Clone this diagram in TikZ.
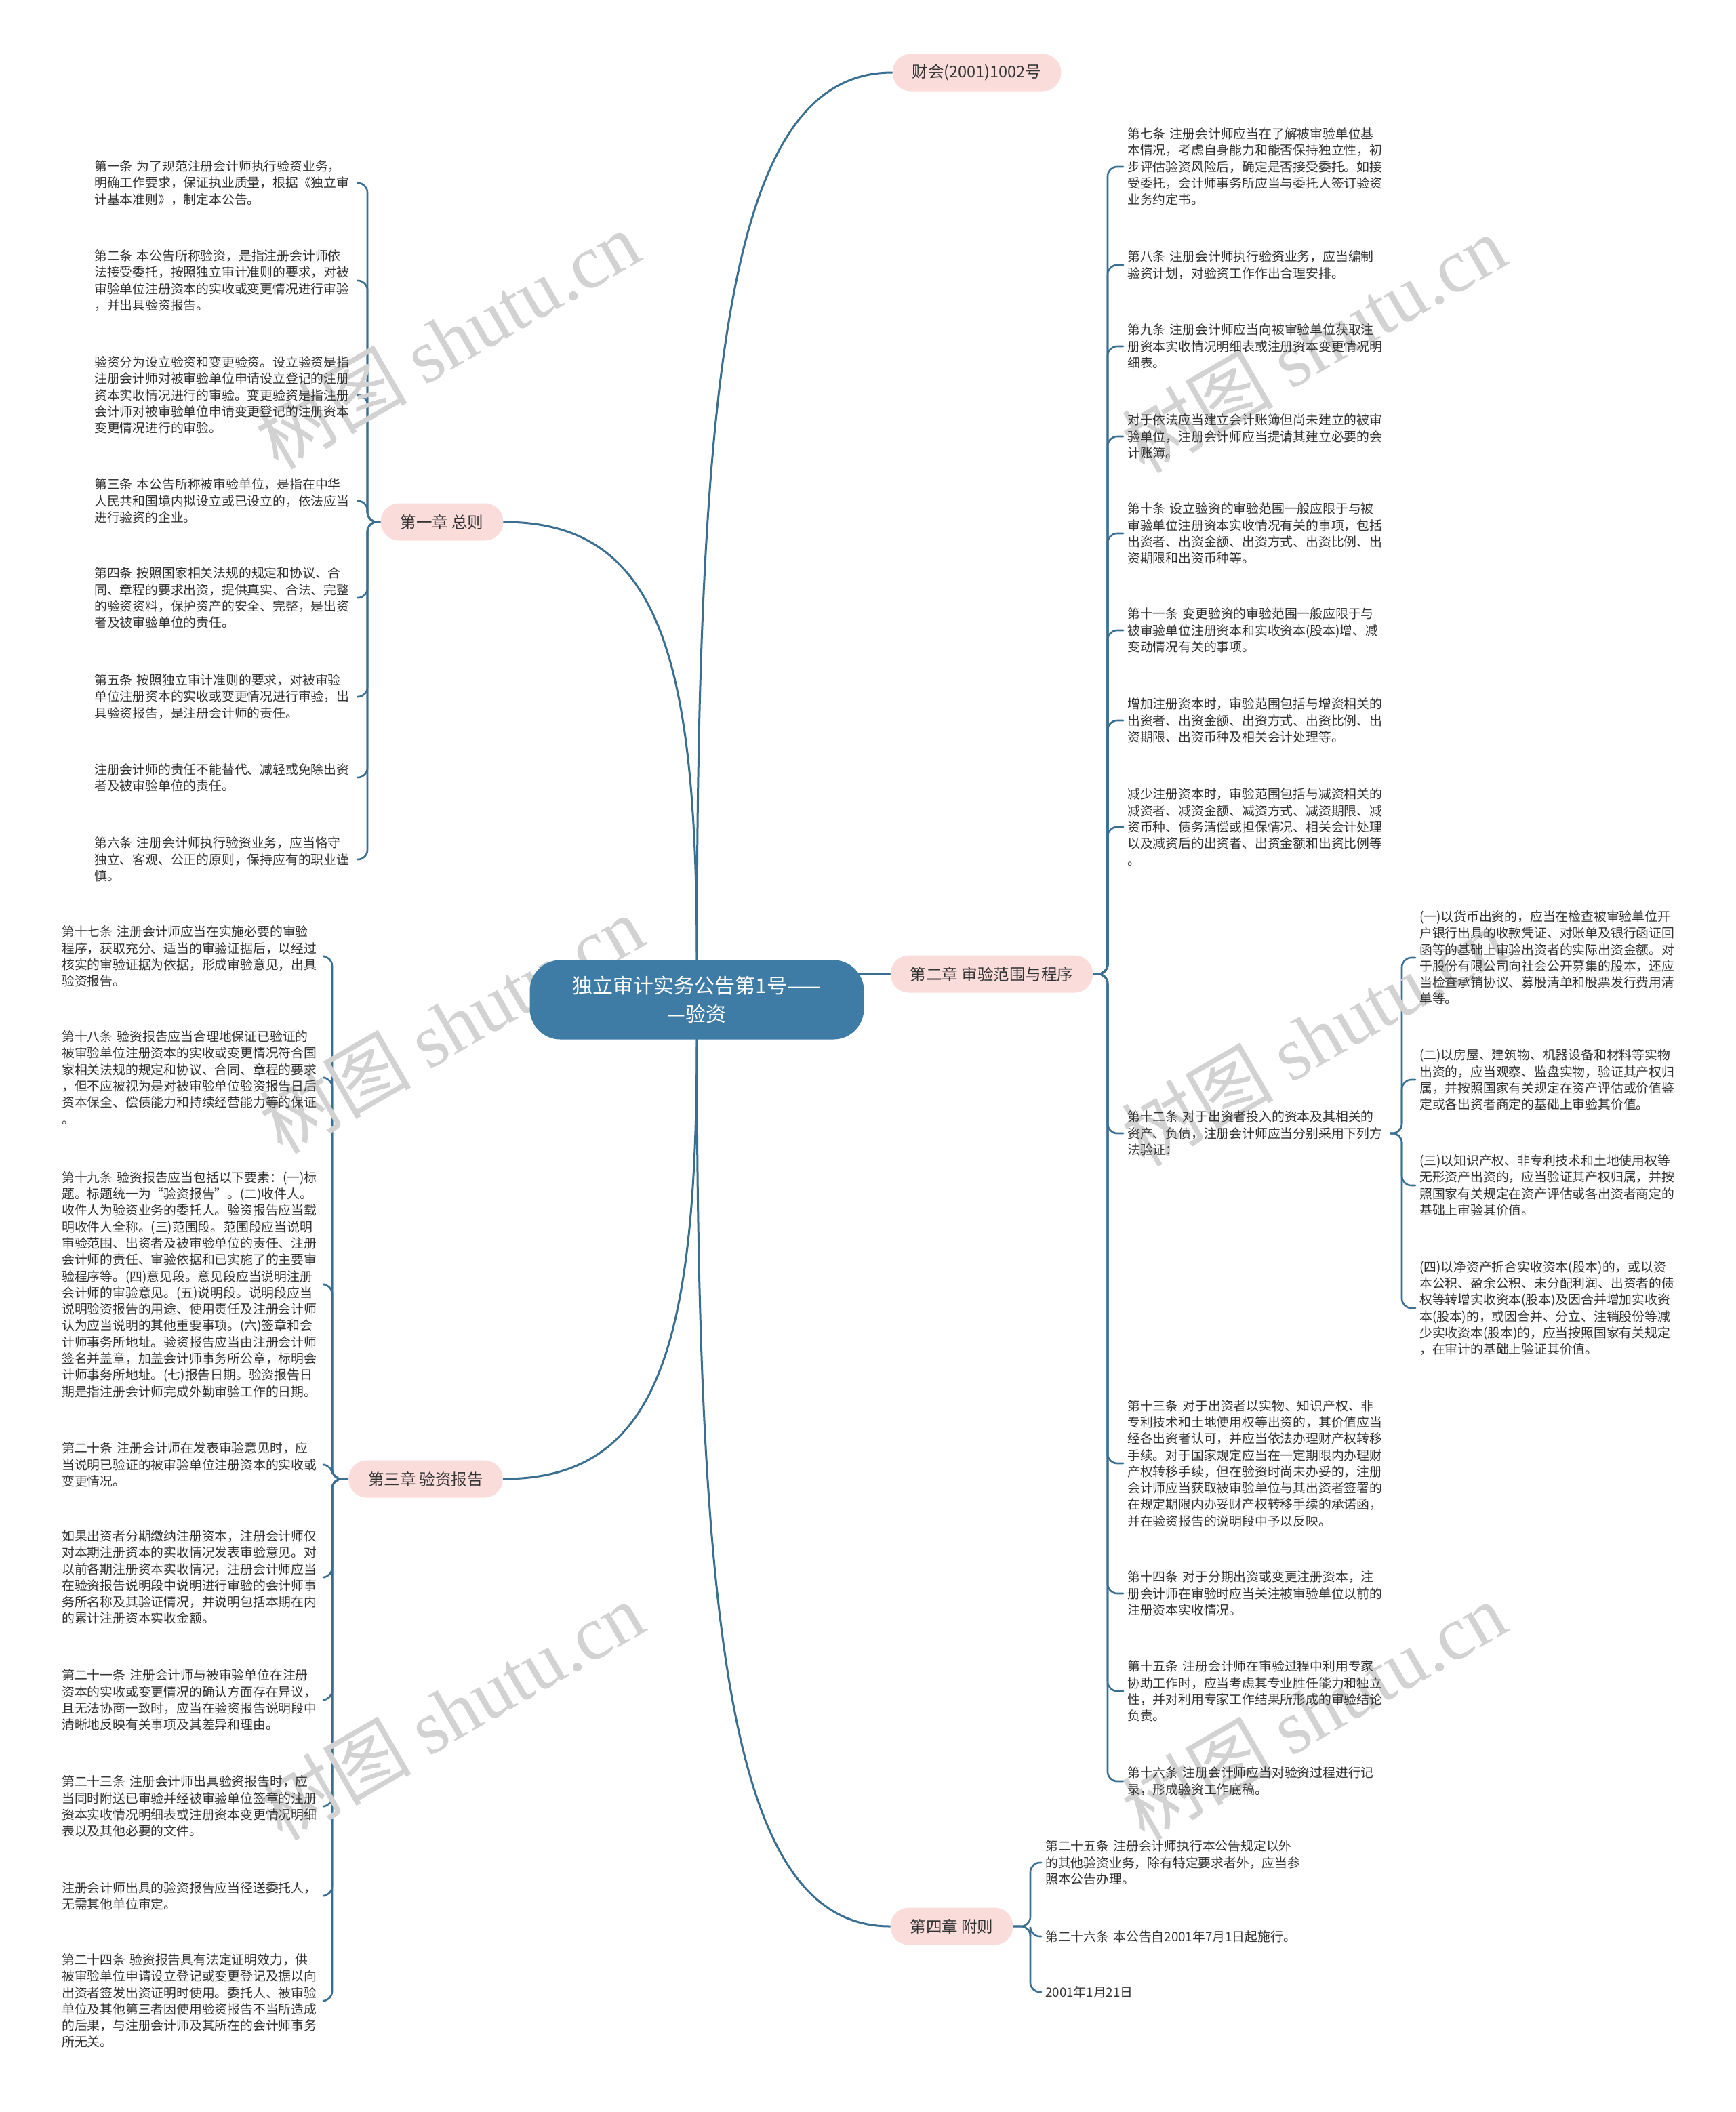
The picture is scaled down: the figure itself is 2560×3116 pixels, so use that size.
\documentclass[tikz,border=0pt]{standalone}
\usepackage{fontspec}
\setmainfont{Noto Sans CJK SC}
\newfontfamily\wmserif{Liberation Serif}
\usetikzlibrary{backgrounds}
\definecolor{linec}{HTML}{3A6F92}
\definecolor{rootc}{HTML}{3E7BA5}
\definecolor{branchc}{HTML}{FADCDB}
\definecolor{textc}{HTML}{333333}
\definecolor{wmc}{HTML}{D2D2D2}
\begin{document}
\begin{tikzpicture}[x=1pt,y=-1pt,
  conn/.style={draw=linec, line width=3pt, line cap=round},
  leafconn/.style={draw=linec, line width=2.6pt, line cap=round, rounded corners=14pt},
  leaf/.style={font=\fontsize{18.8}{24.3}\selectfont, text=textc, align=left, text width=382pt, inner xsep=6pt, inner ysep=2pt, anchor=west},
  branch/.style={fill=branchc, rounded corners=27pt, minimum height=55pt, inner xsep=29pt, font=\fontsize{23.5}{28}\selectfont, text=textc},
  rootnode/.style={fill=rootc, rounded corners=45pt, minimum height=117pt, minimum width=493pt, text=white, align=center, font=\fontsize{30}{42}\selectfont},
  wm/.style={text=wmc, rotate=30, font=\fontsize{112}{116}\selectfont}
]
\useasboundingbox (0,0) rectangle (2560,3116);

% watermarks
\node[wm] (w1) at (660,501) {树图 {\wmserif shutu.cn}};
\node[wm] (w2) at (1938,507) {树图 {\wmserif shutu.cn}};
\node[wm] (w3) at (666,1511) {树图 {\wmserif shutu.cn}};
\node[wm] (w4) at (1938,1530) {树图 {\wmserif shutu.cn}};
\node[wm] (w5) at (666,2524) {树图 {\wmserif shutu.cn}};
\node[wm] (w6) at (1938,2524) {树图 {\wmserif shutu.cn}};

% root and branches
\node[rootnode] (root) at (1028,1475) {独立审计实务公告第1号——\\—验资};
\node[branch] (fin) at (1441,107) {财会(2001)1002号};
\node[branch] (ch1) at (652,770) {第一章 总则};
\node[branch] (ch2) at (1463,1437) {第二章 审验范围与程序};
\node[branch] (ch3) at (628,2182) {第三章 验资报告};
\node[branch] (ch4) at (1404,2842) {第四章 附则};

% chapter 1 leaves
\node[leaf] (a1) at (133,270) {第一条 为了规范注册会计师执行验资业务，\\明确工作要求，保证执业质量，根据《独立审\\计基本准则》，制定本公告。};
\node[leaf] (a2) at (133,414) {第二条 本公告所称验资，是指注册会计师依\\法接受委托，按照独立审计准则的要求，对被\\审验单位注册资本的实收或变更情况进行审验\\，并出具验资报告。};
\node[leaf] (a3) at (133,583) {验资分为设立验资和变更验资。设立验资是指\\注册会计师对被审验单位申请设立登记的注册\\资本实收情况进行的审验。变更验资是指注册\\会计师对被审验单位申请变更登记的注册资本\\变更情况进行的审验。};
\node[leaf] (a4) at (133,739) {第三条 本公告所称被审验单位，是指在中华\\人民共和国境内拟设立或已设立的，依法应当\\进行验资的企业。};
\node[leaf] (a5) at (133,882) {第四条 按照国家相关法规的规定和协议、合\\同、章程的要求出资，提供真实、合法、完整\\的验资资料，保护资产的安全、完整，是出资\\者及被审验单位的责任。};
\node[leaf] (a6) at (133,1028) {第五条 按照独立审计准则的要求，对被审验\\单位注册资本的实收或变更情况进行审验，出\\具验资报告，是注册会计师的责任。};
\node[leaf] (a7) at (133,1147) {注册会计师的责任不能替代、减轻或免除出资\\者及被审验单位的责任。};
\node[leaf] (a8) at (133,1268) {第六条 注册会计师执行验资业务，应当恪守\\独立、客观、公正的原则，保持应有的职业谨\\慎。};

% chapter 2 leaves
\node[leaf] (b1) at (1657,246) {第七条 注册会计师应当在了解被审验单位基\\本情况，考虑自身能力和能否保持独立性，初\\步评估验资风险后，确定是否接受委托。如接\\受委托，会计师事务所应当与委托人签订验资\\业务约定书。};
\node[leaf] (b2) at (1657,391) {第八条 注册会计师执行验资业务，应当编制\\验资计划，对验资工作作出合理安排。};
\node[leaf] (b3) at (1657,511) {第九条 注册会计师应当向被审验单位获取注\\册资本实收情况明细表或注册资本变更情况明\\细表。};
\node[leaf] (b4) at (1657,644) {对于依法应当建立会计账簿但尚未建立的被审\\验单位，注册会计师应当提请其建立必要的会\\计账簿。};
\node[leaf] (b5) at (1657,787) {第十条 设立验资的审验范围一般应限于与被\\审验单位注册资本实收情况有关的事项，包括\\出资者、出资金额、出资方式、出资比例、出\\资期限和出资币种等。};
\node[leaf] (b6) at (1657,930) {第十一条 变更验资的审验范围一般应限于与\\被审验单位注册资本和实收资本(股本)增、减\\变动情况有关的事项。};
\node[leaf] (b7) at (1657,1063) {增加注册资本时，审验范围包括与增资相关的\\出资者、出资金额、出资方式、出资比例、出\\资期限、出资币种及相关会计处理等。};
\node[leaf] (b8) at (1657,1220) {减少注册资本时，审验范围包括与减资相关的\\减资者、减资金额、减资方式、减资期限、减\\资币种、债务清偿或担保情况、相关会计处理\\以及减资后的出资者、出资金额和出资比例等\\。};
\node[leaf] (b9) at (1657,1672) {第十二条 对于出资者投入的资本及其相关的\\资产、负债，注册会计师应当分别采用下列方\\法验证：};
\node[leaf] (b10) at (1657,2159) {第十三条 对于出资者以实物、知识产权、非\\专利技术和土地使用权等出资的，其价值应当\\经各出资者认可，并应当依法办理财产权转移\\手续。对于国家规定应当在一定期限内办理财\\产权转移手续，但在验资时尚未办妥的，注册\\会计师应当获取被审验单位与其出资者签署的\\在规定期限内办妥财产权转移手续的承诺函，\\并在验资报告的说明段中予以反映。};
\node[leaf] (b11) at (1657,2351) {第十四条 对于分期出资或变更注册资本，注\\册会计师在审验时应当关注被审验单位以前的\\注册资本实收情况。};
\node[leaf] (b12) at (1657,2495) {第十五条 注册会计师在审验过程中利用专家\\协助工作时，应当考虑其专业胜任能力和独立\\性，并对利用专家工作结果所形成的审验结论\\负责。};
\node[leaf] (b13) at (1657,2628) {第十六条 注册会计师应当对验资过程进行记\\录，形成验资工作底稿。};

% sub items of article 12
\node[leaf] (c1) at (2088,1413) {(一)以货币出资的，应当在检查被审验单位开\\户银行出具的收款凭证、对账单及银行函证回\\函等的基础上审验出资者的实际出资金额。对\\于股份有限公司向社会公开募集的股本，还应\\当检查承销协议、募股清单和股票发行费用清\\单等。};
\node[leaf] (c2) at (2088,1593) {(二)以房屋、建筑物、机器设备和材料等实物\\出资的，应当观察、监盘实物，验证其产权归\\属，并按照国家有关规定在资产评估或价值鉴\\定或各出资者商定的基础上审验其价值。};
\node[leaf] (c3) at (2088,1749) {(三)以知识产权、非专利技术和土地使用权等\\无形资产出资的，应当验证其产权归属，并按\\照国家有关规定在资产评估或各出资者商定的\\基础上审验其价值。};
\node[leaf] (c4) at (2088,1930) {(四)以净资产折合实收资本(股本)的，或以资\\本公积、盈余公积、未分配利润、出资者的债\\权等转增实收资本(股本)及因合并增加实收资\\本(股本)的，或因合并、分立、注销股份等减\\少实收资本(股本)的，应当按照国家有关规定\\，在审计的基础上验证其价值。};

% chapter 3 leaves
\node[leaf] (d1) at (85,1411) {第十七条 注册会计师应当在实施必要的审验\\程序，获取充分、适当的审验证据后，以经过\\核实的审验证据为依据，形成审验意见，出具\\验资报告。};
\node[leaf] (d2) at (85,1590) {第十八条 验资报告应当合理地保证已验证的\\被审验单位注册资本的实收或变更情况符合国\\家相关法规的规定和协议、合同、章程的要求\\，但不应被视为是对被审验单位验资报告日后\\资本保全、偿债能力和持续经营能力等的保证\\。};
\node[leaf] (d3) at (85,1895) {第十九条 验资报告应当包括以下要素：(一)标\\题。标题统一为“验资报告”。(二)收件人。\\收件人为验资业务的委托人。验资报告应当载\\明收件人全称。(三)范围段。范围段应当说明\\审验范围、出资者及被审验单位的责任、注册\\会计师的责任、审验依据和已实施了的主要审\\验程序等。(四)意见段。意见段应当说明注册\\会计师的审验意见。(五)说明段。说明段应当\\说明验资报告的用途、使用责任及注册会计师\\认为应当说明的其他重要事项。(六)签章和会\\计师事务所地址。验资报告应当由注册会计师\\签名并盖章，加盖会计师事务所公章，标明会\\计师事务所地址。(七)报告日期。验资报告日\\期是指注册会计师完成外勤审验工作的日期。};
\node[leaf] (d4) at (85,2161) {第二十条 注册会计师在发表审验意见时，应\\当说明已验证的被审验单位注册资本的实收或\\变更情况。};
\node[leaf] (d5) at (85,2327) {如果出资者分期缴纳注册资本，注册会计师仅\\对本期注册资本的实收情况发表审验意见。对\\以前各期注册资本实收情况，注册会计师应当\\在验资报告说明段中说明进行审验的会计师事\\务所名称及其验证情况，并说明包括本期在内\\的累计注册资本实收金额。};
\node[leaf] (d6) at (85,2508) {第二十一条 注册会计师与被审验单位在注册\\资本的实收或变更情况的确认方面存在异议，\\且无法协商一致时，应当在验资报告说明段中\\清晰地反映有关事项及其差异和理由。};
\node[leaf] (d7) at (85,2665) {第二十三条 注册会计师出具验资报告时，应\\当同时附送已审验并经被审验单位签章的注册\\资本实收情况明细表或注册资本变更情况明细\\表以及其他必要的文件。};
\node[leaf] (d8) at (85,2797) {注册会计师出具的验资报告应当径送委托人，\\无需其他单位审定。};
\node[leaf] (d9) at (85,2952) {第二十四条 验资报告具有法定证明效力，供\\被审验单位申请设立登记或变更登记及据以向\\出资者签发出资证明时使用。委托人、被审验\\单位及其他第三者因使用验资报告不当所造成\\的后果，与注册会计师及其所在的会计师事务\\所无关。};

% chapter 4 leaves
\node[leaf] (e1) at (1536,2748) {第二十五条 注册会计师执行本公告规定以外\\的其他验资业务，除有特定要求者外，应当参\\照本公告办理。};
\node[leaf] (e2) at (1536,2857) {第二十六条 本公告自2001年7月1日起施行。};
\node[leaf] (e3) at (1536,2939) {2001年1月21日};

\begin{scope}[on background layer]
\fill[white] (0,0) rectangle (2560,3116);
% root connectors
\draw[conn] (root.north) .. controls (1028,500) and (1085,107) .. (fin.west);
\draw[conn] (root.north) .. controls (1028,964) and (971,770) .. (ch1.east);
\draw[conn] (root.center |- ch2.west) -- (ch2.west);
\draw[conn] (root.south) .. controls (1028,1988) and (971,2182) .. (ch3.east);
\draw[conn] (root.south) .. controls (1028,2450) and (1085,2842) .. (ch4.west);
% chapter 1
\foreach \n in {a1,a2,a3,a4,a5,a6,a7,a8}
  \draw[leafconn] (ch1.west) -- (542,770) |- (\n.east);
% chapter 2
\foreach \n in {b1,b2,b3,b4,b5,b6,b7,b8,b9,b10,b11,b12,b13}
  \draw[leafconn] (ch2.east) -- (1634,1437) |- (\n.west);
% article 12
\foreach \n in {c1,c2,c3,c4}
  \draw[leafconn] (b9.east) -- (2068,1672) |- (\n.west);
% chapter 3
\foreach \n in {d1,d2,d3,d4,d5,d6,d7,d8,d9}
  \draw[leafconn] (ch3.west) -- (490,2182) |- (\n.east);
% chapter 4
\foreach \n in {e1,e2,e3}
  \draw[leafconn] (ch4.east) -- (1520,2842) |- (\n.west);
\end{scope}
\end{tikzpicture}
\end{document}
